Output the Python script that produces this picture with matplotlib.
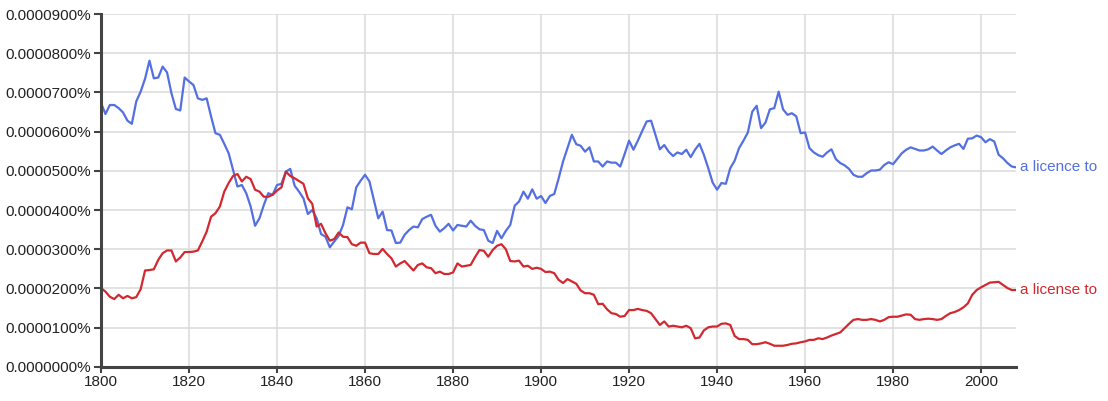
import numpy as np
import matplotlib
matplotlib.use("Agg")
import matplotlib.pyplot as plt
from matplotlib.ticker import FuncFormatter, MultipleLocator

# values, in units of 0.00001 %
years = np.arange(1800, 2009)

licence = [
    6.73, 6.45, 6.68, 6.68, 6.60, 6.49, 6.28, 6.20, 6.77, 7.02,
    7.35, 7.81, 7.36, 7.38, 7.66, 7.51, 6.98, 6.58, 6.54, 7.38,
    7.28, 7.19, 6.85, 6.81, 6.85, 6.39, 5.96, 5.92, 5.69, 5.45,
    5.03, 4.60, 4.64, 4.43, 4.09, 3.60, 3.79, 4.13, 4.43, 4.39,
    4.64, 4.67, 4.98, 5.05, 4.62, 4.47, 4.30, 3.90, 4.00, 3.79,
    3.39, 3.32, 3.05, 3.20, 3.34, 3.62, 4.07, 4.02, 4.58, 4.75,
    4.90, 4.73, 4.26, 3.79, 3.96, 3.49, 3.48, 3.16, 3.17, 3.37,
    3.49, 3.58, 3.56, 3.77, 3.83, 3.88, 3.60, 3.45, 3.54, 3.65,
    3.48, 3.62, 3.60, 3.58, 3.73, 3.60, 3.51, 3.49, 3.22, 3.16,
    3.47, 3.28, 3.47, 3.62, 4.11, 4.22, 4.47, 4.29, 4.53, 4.29,
    4.36, 4.18, 4.36, 4.41, 4.81, 5.24, 5.58, 5.92, 5.68, 5.64,
    5.49, 5.60, 5.24, 5.24, 5.11, 5.24, 5.21, 5.21, 5.11, 5.43,
    5.77, 5.54, 5.77, 6.02, 6.26, 6.28, 5.92, 5.55, 5.66, 5.49,
    5.38, 5.47, 5.43, 5.54, 5.35, 5.54, 5.69, 5.41, 5.07, 4.70,
    4.52, 4.69, 4.67, 5.07, 5.26, 5.58, 5.77, 5.98, 6.51, 6.66,
    6.09, 6.23, 6.57, 6.60, 7.02, 6.57, 6.43, 6.47, 6.39, 5.96,
    5.98, 5.58, 5.47, 5.40, 5.36, 5.47, 5.55, 5.30, 5.20, 5.14,
    5.05, 4.90, 4.85, 4.85, 4.94, 5.01, 5.01, 5.03, 5.15, 5.22,
    5.17, 5.31, 5.45, 5.54, 5.60, 5.56, 5.52, 5.52, 5.55, 5.62,
    5.52, 5.43, 5.52, 5.60, 5.65, 5.69, 5.56, 5.82, 5.83, 5.90,
    5.86, 5.73, 5.81, 5.75, 5.41, 5.32, 5.20, 5.11, 5.09,
]

license = [
    2.01, 1.92, 1.79, 1.73, 1.84, 1.75, 1.81, 1.75, 1.78, 1.98,
    2.46, 2.47, 2.49, 2.73, 2.90, 2.97, 2.97, 2.69, 2.79, 2.93,
    2.93, 2.94, 2.97, 3.20, 3.45, 3.83, 3.92, 4.09, 4.47, 4.69,
    4.87, 4.92, 4.73, 4.85, 4.79, 4.52, 4.47, 4.34, 4.34, 4.39,
    4.50, 4.58, 4.98, 4.87, 4.81, 4.74, 4.67, 4.30, 4.16, 3.58,
    3.65, 3.41, 3.22, 3.26, 3.43, 3.32, 3.31, 3.13, 3.09, 3.17,
    3.17, 2.90, 2.88, 2.88, 3.01, 2.88, 2.77, 2.56, 2.64, 2.70,
    2.58, 2.46, 2.60, 2.64, 2.54, 2.52, 2.39, 2.43, 2.37, 2.37,
    2.41, 2.64, 2.56, 2.58, 2.60, 2.80, 2.98, 2.96, 2.81, 2.98,
    3.09, 3.13, 3.00, 2.70, 2.69, 2.71, 2.56, 2.58, 2.50, 2.53,
    2.50, 2.42, 2.43, 2.39, 2.22, 2.14, 2.24, 2.18, 2.12, 1.95,
    1.88, 1.88, 1.84, 1.60, 1.61, 1.47, 1.37, 1.35, 1.28, 1.30,
    1.45, 1.45, 1.48, 1.45, 1.43, 1.37, 1.22, 1.07, 1.16, 1.03,
    1.05, 1.03, 1.01, 1.05, 0.99, 0.73, 0.75, 0.93, 1.01, 1.03,
    1.03, 1.10, 1.11, 1.07, 0.79, 0.71, 0.71, 0.69, 0.58, 0.58,
    0.60, 0.63, 0.59, 0.54, 0.54, 0.54, 0.56, 0.59, 0.60, 0.63,
    0.65, 0.69, 0.69, 0.73, 0.71, 0.75, 0.80, 0.84, 0.88, 0.99,
    1.10, 1.20, 1.22, 1.20, 1.20, 1.22, 1.20, 1.16, 1.20, 1.27,
    1.28, 1.28, 1.31, 1.34, 1.33, 1.22, 1.20, 1.22, 1.23, 1.22,
    1.20, 1.22, 1.30, 1.37, 1.40, 1.45, 1.52, 1.62, 1.84, 1.96,
    2.03, 2.09, 2.15, 2.16, 2.17, 2.09, 2.01, 1.96, 1.96,
]

series_names = ["a licence to", "a license to"]
colors = ["#5470e0", "#d2282f"]

plt.rcParams['font.family'] = ['Liberation Sans', 'DejaVu Sans']

fig = plt.figure(figsize=(11.08, 4.01), dpi=100)
ax = fig.add_axes([0.0912, 0.085, 0.826, 0.880])

for vals, name, c in zip([licence, license], series_names, colors):
    pct = np.array(vals) * 1e-5
    ax.plot(years, pct, color=c, lw=1.6, solid_joinstyle='round')
    ax.text(years[-1] + 0.8, pct[-1], name, color=c, fontsize=11,
            va='center', ha='left', clip_on=False)

ax.set_xlim(1800, 2008)
ax.set_ylim(0, 9e-5)
ax.xaxis.set_major_locator(MultipleLocator(20))
ax.yaxis.set_major_locator(MultipleLocator(1e-5))
ax.yaxis.set_major_formatter(FuncFormatter(lambda v, p: "%.7f%%" % v))

ax.grid(True, color='#dddddd', lw=1.2)
ax.set_axisbelow(True)
for s in ['top', 'right']:
    ax.spines[s].set_visible(False)
for s in ['left', 'bottom']:
    ax.spines[s].set_color('#444444')
    ax.spines[s].set_linewidth(2.2)
ax.tick_params(axis='y', length=5, width=1.5, color='#444444',
               labelsize=11, labelcolor='#222222', pad=2)
ax.tick_params(axis='x', length=4, width=1.5, color='#444444',
               labelsize=11, labelcolor='#222222', pad=2)

fig.savefig("out.png", dpi=100)
